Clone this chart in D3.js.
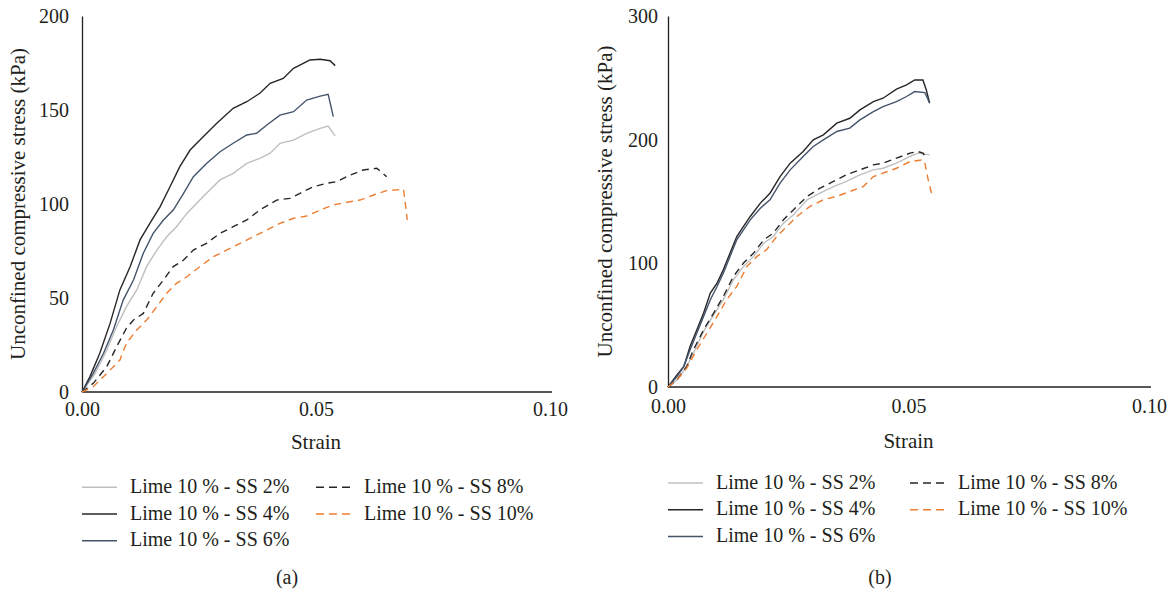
<!DOCTYPE html>
<html>
<head>
<meta charset="utf-8">
<script src="https://cdn.jsdelivr.net/npm/d3@7"></script>
</head>
<body style="margin:0">
<script>
// series names, legend order
var seriesNames = ["Lime 10 % - SS 2%", "Lime 10 % - SS 4%", "Lime 10 % - SS 6%", "Lime 10 % - SS 8%", "Lime 10 % - SS 10%"];
var xTicks = [0, 0.05, 0.10];
var yTicksA = [0, 50, 100, 150, 200];
var yTicksB = [0, 100, 200, 300];

// panel (a): [strain, stress kPa]
var a_ss2 = [[0,0],[0.0028,9.9],[0.0053,22.3],[0.0074,34.8],[0.0095,45.4],[0.0117,54.3],[0.0138,66.7],[0.0160,75.5],[0.0181,82.6],[0.0202,87.9],[0.0224,95.0],[0.0245,100.4],[0.0266,105.7],[0.0295,112.8],[0.0323,116.3],[0.0352,121.6],[0.0380,124.3],[0.0402,127.0],[0.0423,132.3],[0.0452,134.0],[0.0480,137.6],[0.0509,140.2],[0.0526,141.5],[0.0541,136.2]];
var a_ss4 = [[0,0],[0.0017,8.2],[0.0038,20.6],[0.0060,36.5],[0.0081,54.3],[0.0103,66.7],[0.0124,80.9],[0.0145,89.7],[0.0167,98.6],[0.0188,109.2],[0.0209,119.9],[0.0231,128.7],[0.0252,134.0],[0.0288,142.9],[0.0323,150.9],[0.0352,154.4],[0.0380,158.9],[0.0402,164.2],[0.0430,166.8],[0.0452,172.2],[0.0480,175.7],[0.0487,176.6],[0.0509,177.0],[0.0530,176.2],[0.0541,173.6]];
var a_ss6 = [[0,0],[0.0024,9.9],[0.0046,20.6],[0.0067,33.0],[0.0088,48.9],[0.0110,59.6],[0.0131,73.8],[0.0152,84.4],[0.0174,91.5],[0.0195,96.8],[0.0217,105.7],[0.0238,114.5],[0.0266,121.6],[0.0295,127.8],[0.0323,132.3],[0.0352,136.7],[0.0373,137.6],[0.0395,142.0],[0.0423,147.3],[0.0452,149.1],[0.0480,155.3],[0.0509,157.4],[0.0526,158.3],[0.0537,146.5]];
var a_ss8 = [[0,0],[0.0024,4.6],[0.0053,13.5],[0.0074,24.1],[0.0095,33.9],[0.0110,38.3],[0.0131,41.8],[0.0152,52.5],[0.0174,59.6],[0.0195,66.7],[0.0217,70.2],[0.0238,75.5],[0.0266,79.1],[0.0295,84.4],[0.0323,87.9],[0.0352,91.5],[0.0380,96.8],[0.0416,102.1],[0.0444,103.0],[0.0466,105.7],[0.0494,109.2],[0.0523,111.0],[0.0544,111.9],[0.0573,115.4],[0.0601,118.1],[0.0630,119.0],[0.0651,114.5]];
var a_ss10 = [[0,0],[0.0024,2.8],[0.0053,9.9],[0.0081,17.0],[0.0095,25.9],[0.0117,33.0],[0.0138,38.3],[0.0160,45.4],[0.0181,52.5],[0.0202,57.8],[0.0224,61.3],[0.0252,66.7],[0.0281,72.0],[0.0309,75.5],[0.0338,79.1],[0.0366,82.6],[0.0395,86.2],[0.0423,89.7],[0.0452,92.4],[0.0480,93.6],[0.0509,96.8],[0.0537,99.5],[0.0566,100.9],[0.0594,102.1],[0.0623,104.8],[0.0651,107.1],[0.0687,107.8],[0.0690,102.1],[0.0695,91.5]];

// panel (b)
var b_ss2 = [[0,0],[0.0019,5.9],[0.0039,16.7],[0.0053,27.5],[0.0074,45.0],[0.0095,58.4],[0.0115,70.6],[0.0136,86.7],[0.0157,97.5],[0.0178,105.6],[0.0199,116.3],[0.0219,121.7],[0.0240,132.5],[0.0261,139.2],[0.0289,151.4],[0.0316,156.7],[0.0344,162.1],[0.0371,166.2],[0.0399,171.6],[0.0427,175.6],[0.0447,176.9],[0.0475,181.0],[0.0503,186.4],[0.0520,189.1],[0.0544,187.7]];
var b_ss4 = [[0,0],[0.0019,10.0],[0.0033,16.7],[0.0046,32.9],[0.0060,46.3],[0.0074,59.8],[0.0088,75.9],[0.0102,84.0],[0.0115,94.8],[0.0129,108.3],[0.0143,121.7],[0.0157,129.8],[0.0171,137.9],[0.0192,148.7],[0.0212,156.7],[0.0233,170.2],[0.0254,181.0],[0.0281,190.4],[0.0302,199.8],[0.0323,203.9],[0.0351,213.3],[0.0378,217.3],[0.0399,224.1],[0.0427,230.8],[0.0447,233.5],[0.0475,240.8],[0.0496,244.3],[0.0513,248.3],[0.0530,248.3],[0.0537,240.2],[0.0544,229.5]];
var b_ss6 = [[0,0],[0.0019,8.6],[0.0033,16.7],[0.0046,30.2],[0.0060,43.6],[0.0074,57.1],[0.0088,70.6],[0.0102,81.3],[0.0115,92.1],[0.0129,105.6],[0.0143,119.0],[0.0157,127.1],[0.0171,135.2],[0.0192,144.6],[0.0212,151.4],[0.0233,164.8],[0.0254,175.6],[0.0281,186.4],[0.0302,194.5],[0.0323,199.8],[0.0351,206.6],[0.0378,209.3],[0.0399,216.0],[0.0427,222.7],[0.0447,226.8],[0.0475,230.8],[0.0496,234.9],[0.0513,238.9],[0.0534,238.1],[0.0544,229.5]];
var b_ss8 = [[0,0],[0.0019,5.9],[0.0039,16.7],[0.0053,30.2],[0.0074,46.3],[0.0095,59.8],[0.0115,73.3],[0.0136,89.4],[0.0157,100.2],[0.0178,108.3],[0.0199,119.0],[0.0219,124.4],[0.0240,135.2],[0.0261,143.3],[0.0289,154.1],[0.0316,160.8],[0.0344,166.2],[0.0371,171.6],[0.0399,175.6],[0.0427,179.6],[0.0447,181.0],[0.0475,185.0],[0.0503,189.1],[0.0520,190.4],[0.0530,189.1],[0.0537,185.0]];
var b_ss10 = [[0,0],[0.0019,5.9],[0.0039,15.4],[0.0060,30.2],[0.0081,43.6],[0.0102,57.1],[0.0122,70.6],[0.0143,81.3],[0.0164,97.5],[0.0185,105.6],[0.0205,111.0],[0.0226,121.7],[0.0247,129.8],[0.0268,137.9],[0.0295,146.0],[0.0323,151.4],[0.0351,154.1],[0.0378,158.1],[0.0406,162.1],[0.0427,170.2],[0.0447,172.9],[0.0475,176.9],[0.0503,182.3],[0.0530,183.7],[0.0534,181.0],[0.0541,167.5],[0.0548,156.7]];

var colors = ["#bfbfbf", "#262626", "#44546a", "#262626", "#ed7d31"];
var dashes = [null, null, null, "7,5", "7,5"];
var INK = "#231f20";

var svg = d3.select("body").append("svg")
    .attr("width", 1175)
    .attr("height", 590);

// every text gets the serif face inline
function styleText(sel, size) {
  return sel.style("font-family", "'Liberation Serif'").style("font-size", (size || 20) + "px").style("fill", INK);
}

function drawPanel(opt) {
  var x = d3.scaleLinear().domain([0, 0.10]).range([opt.left, opt.right]);
  var y = d3.scaleLinear().domain([0, opt.ymax]).range([opt.bottom, opt.top]);

  var g = svg.append("g");

  // axes
  var xAxis = g.append("g")
      .attr("transform", `translate(0, ${opt.bottom})`)
      .call(d3.axisBottom(x).tickValues(xTicks).tickFormat(d3.format(".2f")).tickSize(0).tickPadding(opt.xpad));
  var yAxis = g.append("g")
      .attr("transform", `translate(${opt.left}, 0)`)
      .call(d3.axisLeft(y).tickValues(opt.yTicks).tickSize(0).tickPadding(opt.ypad));
  [xAxis, yAxis].forEach(function(a) {
    a.attr("font-family", null);
    a.select(".domain").attr("stroke", INK).attr("stroke-width", 1.3);
    styleText(a.selectAll("text"));
  });
  xAxis.select(".domain").attr("d", `M${opt.left},0H${opt.right + 2}`);

  // lines
  var line = d3.line().x(d => x(d[0])).y(d => y(d[1]));
  opt.series.forEach(function(s, i) {
    g.append("path")
      .datum(s)
      .attr("d", line)
      .attr("fill", "none")
      .attr("stroke", colors[i])
      .attr("stroke-width", 1.4)
      .attr("stroke-dasharray", dashes[i]);
  });

  // axis titles
  styleText(g.append("text"), 21)
    .attr("transform", `translate(${opt.ytitleX}, ${(opt.top + opt.bottom) / 2}) rotate(-90)`)
    .attr("text-anchor", "middle")
    .attr("dy", "0.35em")
    .text("Unconfined compressive stress (kPa)");

  styleText(g.append("text"), 21)
    .attr("x", x(0.05))
    .attr("y", opt.strainY)
    .attr("text-anchor", "middle")
    .text("Strain");

  // legend
  var cols = [[0, 1, 2], [3, 4]];
  cols.forEach(function(col, c) {
    col.forEach(function(idx, r) {
      var lx = opt.legX[c];
      var ly = opt.legY + r * 26.7;
      g.append("line")
        .attr("x1", lx).attr("x2", lx + 35)
        .attr("y1", ly).attr("y2", ly)
        .attr("stroke", colors[idx])
        .attr("stroke-width", 1.5)
        .attr("stroke-dasharray", idx >= 3 ? "8,5" : null);
      styleText(g.append("text"))
        .attr("x", lx + 48)
        .attr("y", ly + 5.5)
        .text(seriesNames[idx]);
    });
  });

  styleText(g.append("text"))
    .attr("x", opt.capX)
    .attr("y", 584)
    .attr("text-anchor", "middle")
    .text(opt.caption);
}

drawPanel({
  left: 82, right: 550, top: 16, bottom: 392, ymax: 200, yTicks: yTicksA,
  xpad: 10, ypad: 13, ytitleX: 18, strainY: 449,
  series: [a_ss2, a_ss4, a_ss6, a_ss8, a_ss10],
  legX: [82, 316], legY: 487.3, capX: 287, caption: "(a)"
});

drawPanel({
  left: 668, right: 1149, top: 16, bottom: 387, ymax: 300, yTicks: yTicksB,
  xpad: 12, ypad: 10, ytitleX: 605, strainY: 448,
  series: [b_ss2, b_ss4, b_ss6, b_ss8, b_ss10],
  legX: [668, 910], legY: 483, capX: 880, caption: "(b)"
});
</script>
</body>
</html>
